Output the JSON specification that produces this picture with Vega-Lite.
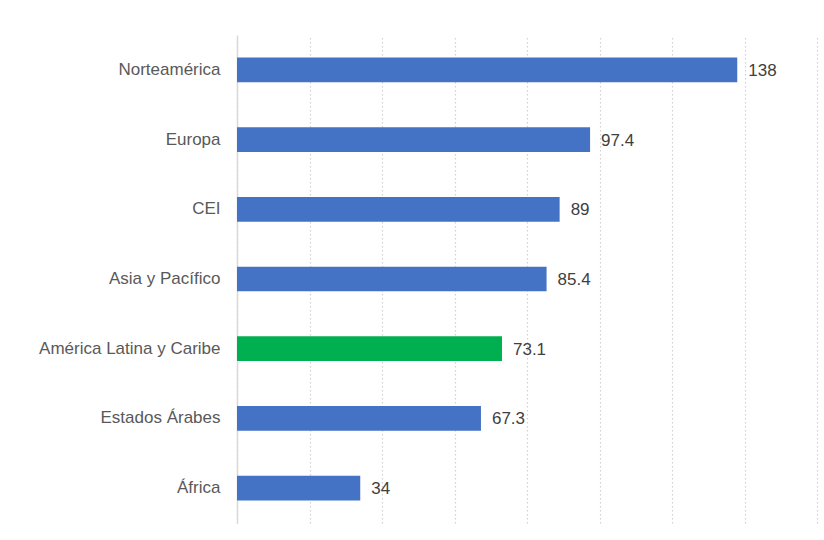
{
  "$schema": "https://vega.github.io/schema/vega-lite/v6.json",
  "width": 580,
  "height": 488,
  "autosize": {"type": "none"},
  "padding": {"left": 237, "top": 35, "right": 7, "bottom": 17},
  "background": "#ffffff",
  "data": {
    "values": [
      {"region": "Norteamérica", "value": 138, "highlight": "no"},
      {"region": "Europa", "value": 97.4, "highlight": "no"},
      {"region": "CEI", "value": 89, "highlight": "no"},
      {"region": "Asia y Pacífico", "value": 85.4, "highlight": "no"},
      {"region": "América Latina y Caribe", "value": 73.1, "highlight": "yes"},
      {"region": "Estados Árabes", "value": 67.3, "highlight": "no"},
      {"region": "África", "value": 34, "highlight": "no"}
    ]
  },
  "encoding": {
    "y": {
      "field": "region",
      "type": "nominal",
      "sort": null,
      "scale": {"paddingInner": 0.645, "paddingOuter": 0.3225},
      "axis": {
        "title": null,
        "ticks": false,
        "domain": true,
        "domainColor": "#d9d9d9",
        "domainWidth": 1.5,
        "labelFont": "Liberation Sans",
        "labelFontSize": 17,
        "labelColor": "#595959",
        "labelPadding": 17,
        "labelLimit": 400
      }
    },
    "x": {
      "field": "value",
      "type": "quantitative",
      "scale": {"domain": [0, 160], "nice": false},
      "axis": {
        "title": null,
        "labels": false,
        "ticks": false,
        "domain": false,
        "tickCount": 8,
        "grid": true,
        "gridColor": "#d0d0d0",
        "gridDash": [1.5, 2.5],
        "gridWidth": 1.2
      }
    }
  },
  "layer": [
    {
      "mark": {"type": "bar"},
      "encoding": {
        "color": {
          "field": "highlight",
          "type": "nominal",
          "scale": {"domain": ["no", "yes"], "range": ["#4472C4", "#00B050"]},
          "legend": null
        }
      }
    },
    {
      "mark": {"type": "text", "align": "left", "baseline": "middle", "dx": 11, "dy": 1, "font": "Liberation Sans", "fontSize": 17, "color": "#404040"},
      "encoding": {"text": {"field": "value", "type": "quantitative"}}
    }
  ],
  "config": {"view": {"stroke": null}}
}
